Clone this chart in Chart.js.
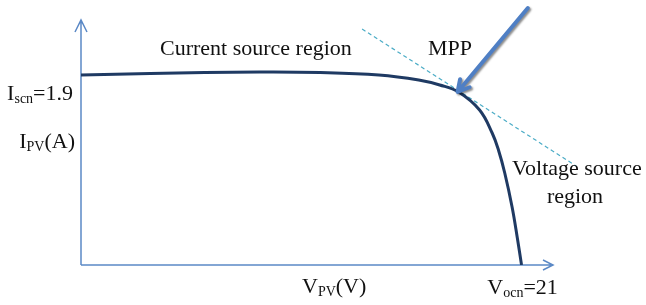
<!DOCTYPE html>
<html>
<head>
<meta charset="utf-8">
<script src="https://cdn.jsdelivr.net/npm/chart.js@4.4.0/dist/chart.umd.min.js"></script>
<style>
  html, body { margin: 0; padding: 0; background: #fff; }
  #wrap { width: 646px; height: 305px; }
</style>
</head>
<body>
<div id="wrap"><canvas id="pvChart"></canvas></div>
<script>
// I-V curve (V in volts, I in amps)
const voltage = [0, 3.3, 8.5, 11.4, 14.2, 16.1, 17.1, 18.0, 19.0, 19.6, 19.9, 20.2, 20.55, 20.8, 21.0];
const current = [1.90, 1.915, 1.93, 1.925, 1.90, 1.85, 1.80, 1.73, 1.55, 1.32, 1.15, 0.92, 0.58, 0.27, 0];

// tangent (dashed) line through the MPP
const tangentV = [13.4, 23.6];
const tangentI = [2.36, 0.99];

// MPP arrow: tail -> head
const arrowV = [21.3, 17.95];
const arrowI = [2.57, 1.73];

const iscn = 1.9;
const vocn = 21;
const xMax = 22.5;
const yMax = 2.45;

const serif = '"Liberation Serif", "Times New Roman", serif';
const axisColor = '#5b89c6';

// draws text with a subscript part: parts = [[text, isSub], ...]
function subText(ctx, parts, x, y, align) {
    const big = '22px ' + serif, small = '14px ' + serif;
    let total = 0;
    parts.forEach(p => { ctx.font = p[1] ? small : big; total += ctx.measureText(p[0]).width; });
    let cx = align === 'right' ? x - total : align === 'center' ? x - total / 2 : x;
    parts.forEach(p => {
        ctx.font = p[1] ? small : big;
        ctx.fillText(p[0], cx, p[1] ? y + 3 : y);
        cx += ctx.measureText(p[0]).width;
    });
}

const decorPlugin = {
    id: 'decor',
    beforeDatasetsDraw(chart) {
        const ctx = chart.ctx, xs = chart.scales.x, ys = chart.scales.y;
        const x0 = xs.getPixelForValue(0), y0 = ys.getPixelForValue(0);
        const xTop = xs.getPixelForValue(xMax), yTop = ys.getPixelForValue(yMax);
        ctx.save();
        ctx.strokeStyle = axisColor;
        ctx.lineWidth = 1.5;
        ctx.beginPath();
        ctx.moveTo(x0, y0); ctx.lineTo(x0, yTop);
        ctx.moveTo(x0, y0); ctx.lineTo(xTop, y0);
        // open arrowheads
        ctx.moveTo(x0 - 6, yTop + 12); ctx.lineTo(x0, yTop); ctx.lineTo(x0 + 6, yTop + 12);
        ctx.moveTo(xTop - 10, y0 - 5); ctx.lineTo(xTop, y0); ctx.lineTo(xTop - 10, y0 + 5);
        ctx.stroke();
        ctx.restore();
    },
    afterDatasetsDraw(chart) {
        const ctx = chart.ctx, xs = chart.scales.x, ys = chart.scales.y;
        // MPP arrow with shadow
        const tx = xs.getPixelForValue(arrowV[0]), ty = ys.getPixelForValue(arrowI[0]);
        const hx = xs.getPixelForValue(arrowV[1]), hy = ys.getPixelForValue(arrowI[1]);
        const ang = Math.atan2(hy - ty, hx - tx);
        ctx.save();
        ctx.shadowColor = 'rgba(0,0,0,0.45)';
        ctx.shadowOffsetX = 1.5; ctx.shadowOffsetY = 1.5; ctx.shadowBlur = 2;
        ctx.strokeStyle = '#4f7fc4';
        ctx.lineWidth = 4;
        ctx.lineCap = 'round';
        ctx.lineJoin = 'round';
        ctx.beginPath();
        ctx.moveTo(tx, ty);
        ctx.lineTo(hx - 4 * Math.cos(ang), hy - 4 * Math.sin(ang));
        ctx.moveTo(hx + 13 * Math.cos(ang + Math.PI - 0.5), hy + 13 * Math.sin(ang + Math.PI - 0.5));
        ctx.lineTo(hx, hy);
        ctx.lineTo(hx + 13 * Math.cos(ang + Math.PI + 0.5), hy + 13 * Math.sin(ang + Math.PI + 0.5));
        ctx.stroke();
        ctx.restore();

        // labels
        ctx.save();
        ctx.fillStyle = '#111';
        ctx.textBaseline = 'alphabetic';
        ctx.font = '22px ' + serif;
        ctx.textAlign = 'left';
        ctx.fillText('Current source region', 160, 55);
        ctx.fillText('MPP', 428, 55);
        ctx.fillText('Voltage source', 512, 175);
        ctx.textAlign = 'center';
        ctx.fillText('region', 575, 203);
        ctx.textAlign = 'left';
        const ax = xs.getPixelForValue(0), ay = ys.getPixelForValue(iscn);
        subText(ctx, [['I', false], ['scn', true], ['=' + iscn, false]], ax - 8, ay + 25, 'right');
        subText(ctx, [['I', false], ['PV', true], ['(A)', false]], ax - 6, ay + 73, 'right');
        subText(ctx, [['V', false], ['PV', true], ['(V)', false]], 302, ys.getPixelForValue(0) + 28, 'left');
        subText(ctx, [['V', false], ['ocn', true], ['=' + vocn, false]], xs.getPixelForValue(vocn) + 1, ys.getPixelForValue(0) + 29, 'center');
        ctx.restore();
    }
};

new Chart(document.getElementById('pvChart'), {
    type: 'line',
    data: {
        datasets: [
            {
                data: voltage.map((v, i) => ({ x: v, y: current[i] })),
                borderColor: '#1f3a63',
                borderWidth: 3,
                pointRadius: 0,
                tension: 0.4,
                fill: false
            },
            {
                data: tangentV.map((v, i) => ({ x: v, y: tangentI[i] })),
                borderColor: '#4bacc6',
                borderWidth: 1.2,
                borderDash: [4, 3],
                pointRadius: 0,
                clip: false
            }
        ]
    },
    options: {
        responsive: true,
        maintainAspectRatio: false,
        animation: false,
        layout: { padding: { left: 81, right: 93, top: 20, bottom: 40 } },
        plugins: { legend: { display: false }, tooltip: { enabled: false } },
        scales: {
            x: { type: 'linear', min: 0, max: xMax, display: false },
            y: { type: 'linear', min: 0, max: yMax, display: false }
        }
    },
    plugins: [decorPlugin]
});
</script>
</body>
</html>
